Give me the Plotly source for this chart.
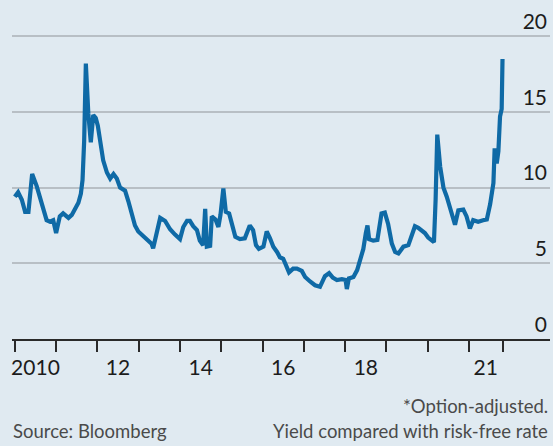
import plotly.graph_objects as go

# Option-adjusted spread, % points (decimal-year sample dates)
years = [
    2010.00, 2010.08, 2010.17, 2010.25, 2010.33, 2010.42, 2010.53, 2010.61, 2010.69, 2010.77,
    2010.85, 2010.93, 2011.00, 2011.09, 2011.17, 2011.30, 2011.38, 2011.46, 2011.54, 2011.60,
    2011.64, 2011.68, 2011.72, 2011.78, 2011.84, 2011.90, 2011.96, 2012.01, 2012.06, 2012.14,
    2012.23, 2012.31, 2012.39, 2012.47, 2012.55, 2012.67, 2012.75, 2012.83, 2012.91, 2012.99,
    2013.11, 2013.23, 2013.31, 2013.35, 2013.44, 2013.52, 2013.64, 2013.76, 2013.88, 2014.00,
    2014.08, 2014.17, 2014.24, 2014.32, 2014.41, 2014.48, 2014.56, 2014.61, 2014.65, 2014.73,
    2014.77, 2014.86, 2014.93, 2014.98, 2015.05, 2015.11, 2015.19, 2015.26, 2015.34, 2015.45,
    2015.57, 2015.69, 2015.77, 2015.84, 2015.91, 2016.02, 2016.10, 2016.18, 2016.26, 2016.35,
    2016.42, 2016.50, 2016.57, 2016.64, 2016.74, 2016.83, 2016.95, 2017.03, 2017.15, 2017.27,
    2017.39, 2017.51, 2017.61, 2017.70, 2017.80, 2017.92, 2018.01, 2018.04, 2018.09, 2018.20,
    2018.29, 2018.37, 2018.44, 2018.50, 2018.54, 2018.58, 2018.68, 2018.78, 2018.88, 2018.96,
    2019.04, 2019.13, 2019.21, 2019.29, 2019.41, 2019.53, 2019.61, 2019.69, 2019.77, 2019.85,
    2019.93, 2020.01, 2020.09, 2020.15, 2020.19, 2020.23, 2020.30, 2020.38, 2020.46, 2020.54,
    2020.66, 2020.74, 2020.86, 2020.94, 2021.02, 2021.10, 2021.22, 2021.34, 2021.43, 2021.51,
    2021.59, 2021.62, 2021.67, 2021.71, 2021.75, 2021.79, 2021.81,
]
spread = [
    9.4, 9.7, 9.2, 8.4, 8.4, 10.9, 10.1, 9.3, 8.5, 7.85,
    7.75, 7.85, 7.0, 8.1, 8.3, 8.0, 8.2, 8.6, 9.0, 9.6,
    10.5, 13.1, 18.2, 14.9, 13.0, 14.8, 14.6, 14.1, 13.3, 11.8,
    11.0, 10.6, 10.9, 10.6, 10.0, 9.8, 9.1, 8.4, 7.5, 7.1,
    6.8, 6.5, 6.3, 6.0, 7.2, 8.0, 7.8, 7.25, 6.9, 6.6,
    7.4, 7.8, 7.8, 7.45, 7.2, 6.5, 6.2, 8.6, 6.1, 6.15,
    8.1, 7.9, 7.4, 8.2, 9.95, 8.4, 8.3, 7.6, 6.75, 6.6,
    6.65, 7.5, 7.2, 6.2, 5.95, 6.1, 7.1, 6.65, 6.1, 5.75,
    5.4, 5.3, 4.8, 4.4, 4.65, 4.65, 4.5, 4.1, 3.8, 3.55,
    3.45, 4.15, 4.35, 4.05, 3.9, 3.95, 3.9, 3.3, 4.0, 4.1,
    4.55, 5.25, 5.95, 7.0, 7.5, 6.6, 6.5, 6.55, 8.3, 8.35,
    7.6, 6.3, 5.75, 5.65, 6.1, 6.2, 6.9, 7.45, 7.35, 7.2,
    7.0, 6.7, 6.5, 6.4, 9.2, 13.5, 11.4, 10.0, 9.4, 8.6,
    7.55, 8.5, 8.55, 8.1, 7.3, 7.85, 7.75, 7.85, 7.9, 8.9,
    10.3, 12.6, 11.6, 12.4, 14.7, 15.2, 18.5,
]

# Axis ticks: year boundaries, labels shown for selected years
tick_years = list(range(2010, 2022))
label_years = [2010, 2012, 2014, 2016, 2018, 2021]
label_text = ["2010", "12", "14", "16", "18", "21"]
y_ticks = [0, 5, 10, 15, 20]

end_year = years[-1]
boundaries = tick_years + [end_year]
label_pos = []
for yr in label_years:
    nxt = yr + 1 if yr + 1 <= end_year else end_year
    label_pos.append((yr + nxt) / 2)

BG = "#e0eaf1"
LINE = "#0f6aa6"
GRID = "#b8bfc5"
INK = "#1c1c1c"
AXIS = "#2a2a2a"
FONT = "Lato"

x_range = [2009.932, 2022.96]

fig = go.Figure()
fig.add_trace(go.Scatter(
    x=years, y=spread, mode="lines",
    line=dict(color=LINE, width=4.2),
    hoverinfo="skip", showlegend=False,
))
# transparent helper so the tick-mark axis gets drawn
fig.add_trace(go.Scatter(
    x=boundaries, y=[0] * len(boundaries), xaxis="x2", mode="markers",
    marker=dict(opacity=0), hoverinfo="skip", showlegend=False,
))

fig.update_layout(
    width=553, height=446,
    margin=dict(l=12, r=3, t=6, b=107),
    paper_bgcolor=BG, plot_bgcolor=BG,
    font=dict(family=FONT, color=INK),
    xaxis=dict(
        range=x_range, tickmode="array", tickvals=label_pos, ticktext=label_text,
        ticks="", showgrid=False, zeroline=False, showline=False,
        tickfont=dict(size=21, color=INK, family=FONT),
        ticklabelstandoff=14,
    ),
    xaxis2=dict(
        range=x_range, overlaying="x", anchor="y", side="bottom",
        tickmode="array", tickvals=boundaries, showticklabels=False,
        ticks="outside", ticklen=11, tickwidth=2, tickcolor=AXIS,
        showline=True, linecolor=AXIS, linewidth=2,
        showgrid=False, zeroline=False,
    ),
    yaxis=dict(
        range=[0, 22], side="right", tickmode="array", tickvals=y_ticks,
        ticklabelposition="inside top", ticks="",
        showgrid=True, gridcolor=GRID, gridwidth=2,
        zeroline=False, showline=False,
        tickfont=dict(size=21, color=INK, family=FONT),
    ),
)

note_font = dict(family=FONT, size=18.5, color="#4a4a4a")
fig.add_annotation(text="*Option-adjusted.", xref="paper", yref="paper",
                   x=1.0, y=-0.201, xanchor="right", yanchor="middle",
                   showarrow=False, font=note_font)
fig.add_annotation(text="Yield compared with risk-free rate", xref="paper", yref="paper",
                   x=1.0, y=-0.276, xanchor="right", yanchor="middle",
                   showarrow=False, font=note_font)
fig.add_annotation(text="Source: Bloomberg", xref="paper", yref="paper",
                   x=-0.002, y=-0.276, xanchor="left", yanchor="middle",
                   showarrow=False, font=note_font)

fig.write_html("out.html")
